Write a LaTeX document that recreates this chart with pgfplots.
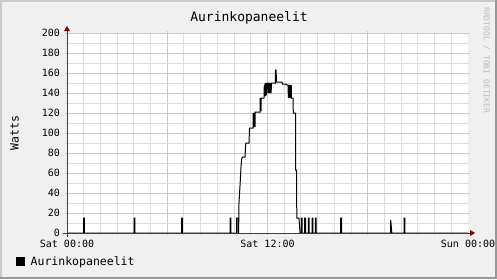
\documentclass[border=0pt]{standalone}
\usepackage{pgfplots}
\pgfplotsset{compat=1.18}
\usepackage{fontspec}
\newfontfamily\mono{DejaVu Sans Mono}
\definecolor{bgc}{HTML}{F0F0F0}
\definecolor{shadea}{HTML}{CBCBCB}
\definecolor{shadeb}{HTML}{999999}
\definecolor{mgrid}{HTML}{F2B8B8}
\definecolor{mingrid}{HTML}{DDDDDD}
\definecolor{axisc}{HTML}{4A3838}
\definecolor{arrowc}{HTML}{7F0000}
\definecolor{wm}{HTML}{BBBBBB}
\pgfplotstableread{
h w
0 0
0.988 0
0.988 15
1.040 15
1.040 0
4.010 0
4.010 15
4.062 15
4.062 0
6.853 0
6.853 15
6.905 15
6.905 0
9.756 0
9.756 15
9.815 15
9.815 0
10.145 0
10.145 15
10.234 15
10.234 0
10.270 0
10.294 30
10.354 47
10.414 66
10.456 74
10.492 76
10.653 76
10.690 88
10.713 90
10.893 90
10.923 105
11.132 105
11.142 120
11.162 106
11.172 120
11.192 106
11.202 120
11.222 106
11.232 120
11.252 106
11.262 121
11.551 121
11.561 135
11.581 122
11.591 135
11.611 122
11.621 135
11.790 135
11.808 148
11.832 137
11.856 150
11.880 137
11.904 150
11.928 138
11.952 150
11.976 140
12.000 150
12.048 150
12.072 140
12.096 150
12.120 140
12.144 150
12.168 140
12.192 150
12.216 140
12.240 150
12.467 150
12.479 163
12.521 163
12.527 151
12.868 151
12.898 149
13.107 149
13.167 148
13.227 148
13.251 135
13.275 148
13.299 135
13.323 148
13.347 135
13.371 148
13.395 135
13.419 148
13.436 135
13.526 135
13.544 120
13.676 120
13.690 63
13.736 63
13.754 15
13.885 15
13.945 0
14.023 0
14.023 15
14.071 15
14.071 0
14.226 0
14.226 15
14.274 15
14.274 0
14.442 0
14.442 15
14.490 15
14.490 0
14.663 0
14.663 15
14.711 15
14.711 0
14.861 0
14.861 15
14.909 15
14.909 0
16.381 0
16.381 15
16.429 15
16.429 0
19.373 0
19.373 13
19.439 0
20.169 0
20.169 15
20.217 15
20.217 0
24 0
}\solar
\begin{document}
\begin{tikzpicture}[x=1bp,y=1bp]
\useasboundingbox (0,0) rectangle (497,279);
\fill[bgc] (0,0) rectangle (497,279);
\fill[shadea] (0,0) rectangle (2,279);
\fill[shadea] (0,277) rectangle (497,279);
\fill[shadeb] (495,0) rectangle (497,279);
\fill[shadeb] (0,0) rectangle (497,2);
\begin{axis}[
  at={(67bp,46bp)}, anchor=south west,
  scale only axis, width=401bp, height=200bp,
  xmin=0, xmax=24, ymin=0, ymax=200,
  clip=false,
  axis background/.style={fill=white},
  axis line style={draw=none},
  xtick={0,6,12,18},
  xticklabels={Sat 00:00,,Sat 12:00,},
  extra x ticks={24},
  extra x tick labels={Sun 00:00},
  extra x tick style={grid=none, every major tick/.append style={draw=none}},
  minor xtick={1,2,3,4,5,7,8,9,10,11,13,14,15,16,17,19,20,21,22,23},
  ytick={0,20,...,200},
  minor ytick={10,30,...,190},
  grid=both,
  major grid style={mgrid, line width=1bp},
  minor grid style={mingrid, line width=1bp},
  tick pos=both, ticklabel pos=left,
  tick align=outside,
  major tick length=2bp, minor tick length=2bp,
  every major tick/.append style={mgrid, line width=1bp},
  every minor tick/.append style={mingrid, line width=1bp},
  ticklabel style={font=\mono\fontsize{10bp}{12bp}\selectfont, text=black},
  /pgf/number format/assume math mode=true,
  xticklabel style={yshift=-2bp},
  yticklabel style={xshift=-1.5bp},
]
\addplot[black, line width=1bp] table[x=h, y=w] {\solar};
\draw[axisc, line width=1bp] ([xshift=-4bp]rel axis cs:0,0) -- ([xshift=4bp]rel axis cs:1,0);
\draw[axisc, line width=1bp] ([yshift=-4bp]rel axis cs:0,0) -- ([yshift=4bp]rel axis cs:0,1);
\fill[arrowc] ([xshift=2bp,yshift=-3bp]rel axis cs:1,0) -- ([xshift=2bp,yshift=3bp]rel axis cs:1,0) -- ([xshift=7bp]rel axis cs:1,0) -- cycle;
\fill[arrowc] ([xshift=-3bp,yshift=2bp]rel axis cs:0,1) -- ([xshift=3bp,yshift=2bp]rel axis cs:0,1) -- ([yshift=7bp]rel axis cs:0,1) -- cycle;
\end{axis}
\node[anchor=base, font=\mono\fontsize{13bp}{15bp}\selectfont, inner sep=0] at (249,258) {Aurinkopaneelit};
\node[rotate=90, font=\mono\fontsize{11.5bp}{13bp}\selectfont, inner sep=0] at (14.5,146) {Watts};
\node[rotate=-90, anchor=west, font=\mono\fontsize{8bp}{10bp}\selectfont, text=wm, inner sep=0] at (486.5,272) {RRDTOOL / TOBI OETIKER};
\fill[black] (16,13.5) rectangle (24.5,22);
\node[anchor=base west, font=\mono\fontsize{11.5bp}{13bp}\selectfont, inner sep=0] at (30.5,13.5) {Aurinkopaneelit};
\end{tikzpicture}
\end{document}
